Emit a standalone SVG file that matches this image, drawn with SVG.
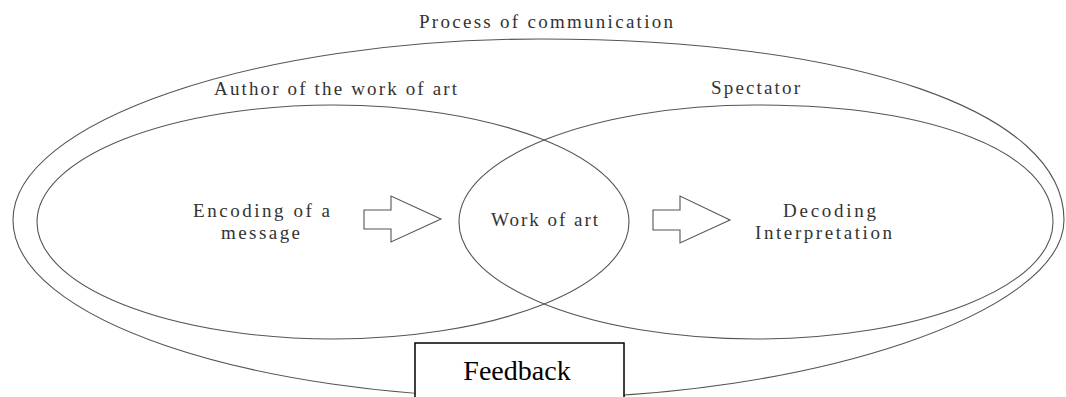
<svg xmlns="http://www.w3.org/2000/svg" width="1066" height="397" viewBox="0 0 1066 397">
<style>
.ln{fill:none;stroke:#555;stroke-width:1.1}
.t{font-family:"Liberation Serif","Times New Roman",serif;font-size:19px;fill:#333;text-anchor:start}
.fb{font-family:"Liberation Serif","Times New Roman",serif;font-size:28px;fill:#000;text-anchor:middle}
</style>
<rect width="1066" height="397" fill="#fff"/>
<g id="process">
<path class="ln" d="M540,39 C854,39 1064,111 1064,220 C1064,312.6 810,398 535,398 C247,398 13,318 13,220 C13,122 255,39 540,39 Z"/>
<text class="t" x="419" y="28" textLength="254" lengthAdjust="spacing">Process of communication</text>
</g>
<g id="author">
<ellipse class="ln" cx="333" cy="222" rx="296" ry="117"/>
<text class="t" x="214" y="95" textLength="243" lengthAdjust="spacing">Author of the work of art</text>
<text class="t" x="193" y="217" textLength="137" lengthAdjust="spacing">Encoding of a</text>
<text class="t" x="221" y="239" textLength="79" lengthAdjust="spacing">message</text>
</g>
<g id="spectator">
<path class="ln" d="M756,105 C934,105 1053,152 1053,222 C1053,286.6 920,339 756,339 C592,339 459,286.6 459,222 C459,157.4 592,105 756,105 Z"/>
<text class="t" x="711" y="94" textLength="89" lengthAdjust="spacing">Spectator</text>
<text class="t" x="783" y="217" textLength="93" lengthAdjust="spacing">Decoding</text>
<text class="t" x="755" y="239" textLength="137" lengthAdjust="spacing">Interpretation</text>
</g>
<g id="work">
<text class="t" x="491" y="226" textLength="107" lengthAdjust="spacing">Work of art</text>
</g>
<g id="connectors">
<path class="ln" d="M364,210 H391 V196 L441,219 L391,242 V229 H364 Z"/>
<path class="ln" d="M653,210 H680 V196 L730,220 L680,243 V230 H653 Z"/>
</g>
<g id="feedback">
<rect x="415" y="343" width="209" height="60" fill="#fff" stroke="#000" stroke-width="1.5"/>
<text class="fb" x="517" y="380">Feedback</text>
</g>
</svg>
